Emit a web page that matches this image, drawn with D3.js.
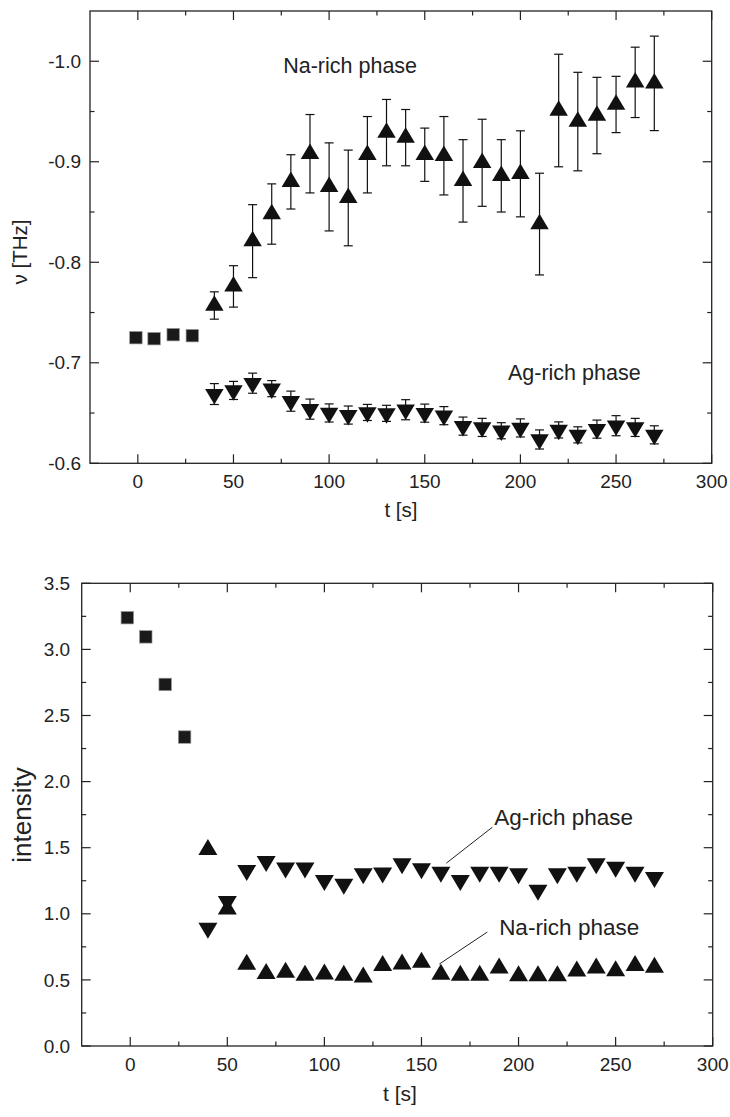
<!DOCTYPE html>
<html><head><meta charset="utf-8">
<script src="https://cdn.jsdelivr.net/npm/d3@7"></script>
<style>
body{margin:0;background:#fff}
svg{display:block}
text{font-family:"Liberation Sans",Arial,Helvetica,sans-serif;fill:#222}
</style>
</head><body>
<svg id="c" width="730" height="1117"></svg>
<script>
// ---------- DATA ----------
const times = [40,50,60,70,80,90,100,110,120,130,140,150,160,170,180,190,200,210,220,230,240,250,260,270];

// Top panel: frequency nu [THz]
const topSquareT = [-1, 8.5, 18.5, 28.5];
const topSquareV = [-0.725, -0.724, -0.728, -0.727];
const topNaRich = [-0.757,-0.776,-0.821,-0.848,-0.880,-0.908,-0.875,-0.864,-0.907,-0.929,-0.924,-0.907,-0.906,-0.881,-0.899,-0.886,-0.888,-0.838,-0.951,-0.940,-0.946,-0.957,-0.979,-0.978];
const topNaRichErr = [0.0136,0.0206,0.0363,0.030,0.027,0.039,0.0438,0.0476,0.038,0.033,0.028,0.0265,0.039,0.041,0.0433,0.036,0.0428,0.0506,0.056,0.049,0.038,0.028,0.035,0.047];
const topAgRich = [-0.6689,-0.6725,-0.6797,-0.6743,-0.6618,-0.6539,-0.6501,-0.6480,-0.6506,-0.6497,-0.6533,-0.6499,-0.6474,-0.6370,-0.6357,-0.6324,-0.6352,-0.6237,-0.6332,-0.6283,-0.6340,-0.6374,-0.6357,-0.6283];
const topAgRichErr = [0.0104,0.009,0.010,0.008,0.010,0.010,0.009,0.009,0.008,0.008,0.010,0.009,0.009,0.009,0.009,0.008,0.009,0.0095,0.008,0.008,0.009,0.010,0.009,0.009];
const topYTicks = [-0.6,-0.7,-0.8,-0.9,-1.0];
const topYTickLabels = ["-0.6","-0.7","-0.8","-0.9","-1.0"];
const topYMinor = [-0.65,-0.75,-0.85,-0.95];

// Bottom panel: intensity
const botSquareT = [-1.5, 8, 18, 28];
const botSquareV = [3.24, 3.095, 2.735, 2.337];
const botNaRich = [1.505,1.055,0.637,0.567,0.577,0.554,0.564,0.554,0.540,0.627,0.640,0.652,0.561,0.554,0.554,0.608,0.551,0.551,0.551,0.587,0.608,0.589,0.627,0.614];
const botAgRich = [0.871,1.075,1.309,1.376,1.328,1.328,1.233,1.205,1.284,1.290,1.360,1.322,1.296,1.233,1.296,1.296,1.284,1.160,1.284,1.296,1.360,1.334,1.296,1.256];
const botYTicks = [0.0,0.5,1.0,1.5,2.0,2.5,3.0,3.5];
const botYTickLabels = ["0.0","0.5","1.0","1.5","2.0","2.5","3.0","3.5"];
const botYMinor = [0.25,0.75,1.25,1.75,2.25,2.75,3.25];

// shared x axis
const xTicks = [0,50,100,150,200,250,300];
const xTickLabels = ["0","50","100","150","200","250","300"];
const xMinor = [25,75,125,175,225,275];

// annotations (data units)
const topLabels = [{text:"Na-rich phase", t:76, v:-0.988},{text:"Ag-rich phase", t:193.5, v:-0.683}];
const botLabels = [
  {text:"Ag-rich phase", t:187.5, v:1.67, lx1:186.5, lv1:1.655, lx2:162.8, lv2:1.383},
  {text:"Na-rich phase", t:190, v:0.839, lx1:183.9, lv1:0.862, lx2:159.2, lv2:0.62}
];

// ---------- DRAW ----------
const svg = d3.select("#c");
const INK = "#111";

// anchor: "centroid" places the triangle centroid on the point, "box" centres its bounding box
function triPath(w, h, up, anchor){
  const a = anchor === "centroid" ? 2*h/3 : h/2, b = h - a;
  return up ? `M0,${-a}L${w/2},${b}L${-w/2},${b}Z`
            : `M0,${a}L${w/2},${-b}L${-w/2},${-b}Z`;
}

function frame(g, x, y, yTicks, yLabels, yMinor, labelGap){
  const [x0,x1] = x.range(), [y0,y1] = y.range();
  g.append("rect").attr("x",x0).attr("y",y1).attr("width",x1-x0).attr("height",y0-y1)
    .attr("fill","none").attr("stroke","#222").attr("stroke-width",1.3);
  const maj = 9, mn = 4.5;
  const tk = g.append("g").attr("stroke","#222").attr("stroke-width",1.2);
  xTicks.forEach(t=>{ const X=x(t);
    tk.append("line").attr("x1",X).attr("x2",X).attr("y1",y0).attr("y2",y0-maj);
    tk.append("line").attr("x1",X).attr("x2",X).attr("y1",y1).attr("y2",y1+maj); });
  xMinor.forEach(t=>{ const X=x(t);
    tk.append("line").attr("x1",X).attr("x2",X).attr("y1",y0).attr("y2",y0-mn);
    tk.append("line").attr("x1",X).attr("x2",X).attr("y1",y1).attr("y2",y1+mn); });
  yTicks.forEach(v=>{ const Y=y(v);
    tk.append("line").attr("x1",x0).attr("x2",x0+maj).attr("y1",Y).attr("y2",Y);
    tk.append("line").attr("x1",x1).attr("x2",x1-maj).attr("y1",Y).attr("y2",Y); });
  yMinor.forEach(v=>{ const Y=y(v);
    tk.append("line").attr("x1",x0).attr("x2",x0+mn).attr("y1",Y).attr("y2",Y);
    tk.append("line").attr("x1",x1).attr("x2",x1-mn).attr("y1",Y).attr("y2",Y); });
  xTicks.forEach((t,i)=>{
    g.append("text").attr("x",x(t)).attr("y",y0+25).attr("text-anchor","middle")
      .attr("font-size",19).text(xTickLabels[i]);
  });
  yTicks.forEach((v,i)=>{
    g.append("text").attr("x",x0-labelGap).attr("y",y(v)).attr("dy","0.35em").attr("text-anchor","end")
      .attr("font-size",19).text(yLabels[i]);
  });
}

function squares(g, x, y, ts, vs, s){
  ts.forEach((t,i)=>{
    g.append("rect").attr("x",x(t)-s/2).attr("y",y(vs[i])-s/2).attr("width",s).attr("height",s)
      .attr("fill","#1a1a1a").attr("stroke","#9a9a9a").attr("stroke-width",0.7);
  });
}

function tris(g, x, y, ts, vs, up, w, h, anchor){
  ts.forEach((t,i)=>{
    g.append("path").attr("d",triPath(w,h,up,anchor))
      .attr("transform",`translate(${x(t)},${y(vs[i])})`).attr("fill",INK);
  });
}

function errBars(g, x, y, ts, vs, es){
  const eg = g.append("g").attr("stroke",INK).attr("stroke-width",1.2);
  ts.forEach((t,i)=>{
    const X=x(t), Ya=y(vs[i]-es[i]), Yb=y(vs[i]+es[i]);
    eg.append("line").attr("x1",X).attr("x2",X).attr("y1",Ya).attr("y2",Yb);
    eg.append("line").attr("x1",X-4.5).attr("x2",X+4.5).attr("y1",Ya).attr("y2",Ya);
    eg.append("line").attr("x1",X-4.5).attr("x2",X+4.5).attr("y1",Yb).attr("y2",Yb);
  });
}

// ----- top panel -----
const xTop = d3.scaleLinear().domain([-25,300]).range([90,711.7]);
const yTop = d3.scaleLinear().domain([-0.6,-1.05]).range([463.3,11]);
const gTop = svg.append("g");
frame(gTop, xTop, yTop, topYTicks, topYTickLabels, topYMinor, 9);
errBars(gTop, xTop, yTop, times, topNaRich, topNaRichErr);
errBars(gTop, xTop, yTop, times, topAgRich, topAgRichErr);
squares(gTop, xTop, yTop, topSquareT, topSquareV, 12.5);
tris(gTop, xTop, yTop, times, topNaRich, true, 18.5, 15.5, "centroid");
tris(gTop, xTop, yTop, times, topAgRich, false, 18.5, 15.5, "centroid");
topLabels.forEach(d=>{
  gTop.append("text").attr("x",xTop(d.t)).attr("y",yTop(d.v)).attr("font-size",21.5).text(d.text);
});
gTop.append("text").attr("x",401).attr("y",517).attr("text-anchor","middle").attr("font-size",20.5).text("t [s]");
gTop.append("text").attr("transform","translate(27,252) rotate(-90)").attr("text-anchor","middle")
  .attr("font-size",20.5).text("ν [THz]");

// ----- bottom panel -----
const xBot = d3.scaleLinear().domain([-25,300]).range([81.7,712.7]);
const yBot = d3.scaleLinear().domain([0,3.5]).range([1046,583.3]);
const gBot = svg.append("g");
frame(gBot, xBot, yBot, botYTicks, botYTickLabels, botYMinor, 11.5);
squares(gBot, xBot, yBot, botSquareT, botSquareV, 12.5);
tris(gBot, xBot, yBot, times, botAgRich, false, 19, 16, "box");
tris(gBot, xBot, yBot, times, botNaRich, true, 19, 16, "box");
botLabels.forEach(d=>{
  gBot.append("text").attr("x",xBot(d.t)).attr("y",yBot(d.v)).attr("font-size",22.5).text(d.text);
  gBot.append("line").attr("x1",xBot(d.lx1)).attr("y1",yBot(d.lv1)).attr("x2",xBot(d.lx2)).attr("y2",yBot(d.lv2))
    .attr("stroke","#222").attr("stroke-width",1);
});
gBot.append("text").attr("x",400).attr("y",1101).attr("text-anchor","middle").attr("font-size",21).text("t [s]");
gBot.append("text").attr("transform","translate(31,815) rotate(-90)").attr("text-anchor","middle")
  .attr("font-size",26).text("intensity");
</script>
</body></html>
